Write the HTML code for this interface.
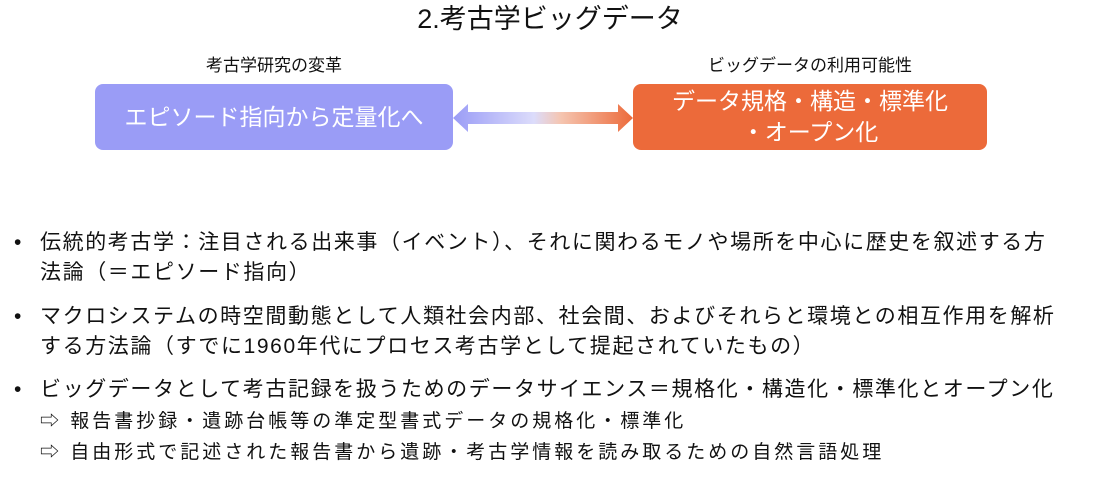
<!DOCTYPE html>
<html><head><meta charset="utf-8"><style>
body{margin:0;width:1100px;height:477px;background:#fff;position:relative;overflow:hidden;font-family:"Liberation Sans","Noto Sans CJK JP",sans-serif;color:#111}
.a{position:absolute;white-space:nowrap;line-height:1}
.box{position:absolute;border-radius:8px;color:#fff;font-size:23px;display:flex;align-items:center;justify-content:center;text-align:center;line-height:31px}
.b{font-size:21px;letter-spacing:1.6px}
.s{font-size:19px;letter-spacing:3px}
</style></head><body>
<div class="a" style="left:0;width:1100px;text-align:center;top:6px;font-size:27px">2.考古学ビッグデータ</div>
<div class="a" style="left:95px;width:358px;text-align:center;top:57px;font-size:17px">考古学研究の変革</div>
<div class="a" style="left:633px;width:354px;text-align:center;top:57px;font-size:17px">ビッグデータの利用可能性</div>
<div class="box" style="left:95px;top:84px;width:358px;height:66px;background:#9a9cf6">エピソード指向から定量化へ</div>
<div class="box" style="left:633px;top:84px;width:354px;height:66px;background:#ec6a3a">データ規格・構造・標準化<br>・オープン化</div>
<svg style="position:absolute;left:450px;top:100px" width="186" height="36">
<defs><linearGradient id="g" x1="0" x2="1"><stop offset="0" stop-color="#9a9cf6"/><stop offset="0.45" stop-color="#dcdcfb"/><stop offset="0.6" stop-color="#f5c5b0"/><stop offset="1" stop-color="#ec6a3a"/></linearGradient></defs>
<polygon points="3,18 18,4 18,12 168,12 168,4 183,18 168,32 168,24 18,24 18,32" fill="url(#g)"/>
</svg>
<div class="a b" style="left:14px;top:232px">•</div>
<div class="a b" style="left:40px;top:232px">伝統的考古学：注目される出来事（イベント）、それに関わるモノや場所を中心に歴史を叙述する方</div>
<div class="a b" style="left:40px;top:262px">法論（＝エピソード指向）</div>
<div class="a b" style="left:14px;top:306px">•</div>
<div class="a b" style="left:40px;top:306px">マクロシステムの時空間動態として人類社会内部、社会間、およびそれらと環境との相互作用を解析</div>
<div class="a b" style="left:40px;top:336px">する方法論（すでに1960年代にプロセス考古学として提起されていたもの）</div>
<div class="a b" style="left:14px;top:379px">•</div>
<div class="a b" style="left:40px;top:379px">ビッグデータとして考古記録を扱うためのデータサイエンス＝規格化・構造化・標準化とオープン化</div>
<div class="a s" style="left:40px;top:412px">⇨ 報告書抄録・遺跡台帳等の準定型書式データの規格化・標準化</div>
<div class="a s" style="left:40px;top:443px">⇨ 自由形式で記述された報告書から遺跡・考古学情報を読み取るための自然言語処理</div>
</body></html>
